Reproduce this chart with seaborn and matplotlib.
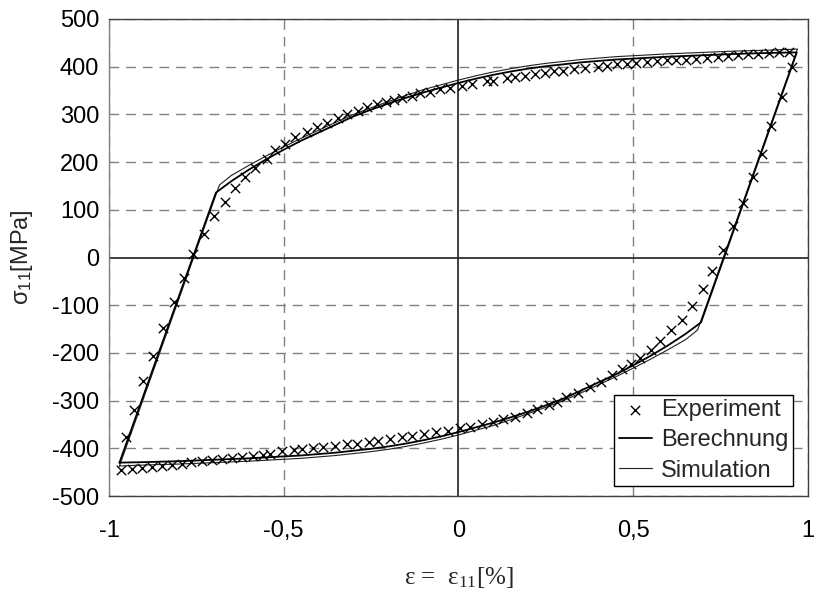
import matplotlib
matplotlib.use("Agg")
import pandas as pd
import matplotlib.pyplot as plt
import seaborn as sns
from matplotlib.ticker import FuncFormatter

# Experiment (markers), read along the loop
exp_strain = [-0.966, -0.952, -0.928, -0.902, -0.875, -0.846, -0.814, -0.785, -0.759, -0.728,
              -0.699, -0.668, -0.639, -0.611, -0.582, -0.549, -0.525, -0.497, -0.468, -0.434,
              -0.406, -0.375, -0.346, -0.320, -0.287, -0.261, -0.234, -0.207, -0.185, -0.163,
              -0.134, -0.110, -0.082, -0.053, -0.024, 0.009, 0.038, 0.081, 0.100, 0.138,
              0.162, 0.190, 0.219, 0.247, 0.273, 0.300, 0.330, 0.362, 0.400, 0.424,
              0.453, 0.481, 0.508, 0.540, 0.569, 0.596, 0.622, 0.651, 0.680, 0.710,
              0.743, 0.772, 0.801, 0.829, 0.858, 0.889, 0.918, 0.946,
              0.953, 0.925, 0.894, 0.868, 0.842, 0.813, 0.785, 0.756, 0.726, 0.700,
              0.667, 0.639, 0.608, 0.577, 0.550, 0.519, 0.493, 0.467, 0.439, 0.408,
              0.377, 0.343, 0.309, 0.281, 0.258, 0.224, 0.196, 0.162, 0.128, 0.100,
              0.066, 0.032, 0.003, -0.031, -0.064, -0.098, -0.132, -0.161, -0.195, -0.229,
              -0.257, -0.291, -0.319, -0.353, -0.387, -0.415, -0.449, -0.472, -0.506, -0.539,
              -0.559, -0.587, -0.620, -0.649, -0.678, -0.706, -0.735, -0.766, -0.792, -0.821,
              -0.849, -0.878, -0.906, -0.935]
exp_stress = [-446, -376, -320, -259, -206, -147, -93, -42, 7, 49,
              88, 117, 145, 169, 188, 206, 225, 238, 252, 264,
              273, 283, 292, 300, 308, 315, 321, 325, 330, 334,
              339, 344, 348, 353, 356, 360, 363, 369, 370, 376,
              378, 381, 384, 387, 390, 392, 395, 397, 400, 402,
              405, 406, 407, 409, 411, 413, 414, 415, 417, 419,
              421, 423, 424, 426, 427, 429, 430, 431,
              400, 336, 276, 217, 169, 114, 65, 16, -28, -65,
              -101, -130, -152, -176, -194, -210, -223, -234, -246, -260,
              -272, -283, -292, -302, -310, -318, -325, -334, -339, -344,
              -349, -355, -358, -363, -366, -370, -374, -377, -380, -384,
              -386, -390, -392, -395, -398, -400, -402, -403, -406, -412,
              -414, -416, -419, -421, -423, -425, -427, -429, -432, -434,
              -437, -439, -442, -444]

# Berechnung (solid line)
calc_strain = [-0.970, -0.694, -0.65, -0.60, -0.55, -0.50, -0.45, -0.40, -0.35, -0.30,
               -0.25, -0.20, -0.15, -0.10, -0.05, 0.00, 0.05, 0.10, 0.15, 0.20,
               0.25, 0.30, 0.35, 0.40, 0.45, 0.50, 0.60, 0.70, 0.80, 0.90, 0.968,
               0.694, 0.65, 0.60, 0.55, 0.50, 0.45, 0.40, 0.35, 0.30,
               0.25, 0.20, 0.15, 0.10, 0.05, 0.00, -0.05, -0.10, -0.15, -0.20,
               -0.25, -0.30, -0.35, -0.40, -0.45, -0.50, -0.60, -0.70, -0.80, -0.90, -0.970]
calc_stress = [-430, 136, 160, 184, 206, 226, 245, 262, 279, 296,
               310, 323, 335, 346, 356, 366, 375, 383, 390, 396,
               401, 405, 409, 412, 415, 417, 421, 424, 427, 429, 430,
               -136, -160, -184, -206, -226, -245, -262, -279, -296,
               -310, -323, -335, -346, -356, -366, -375, -383, -390, -396,
               -401, -405, -409, -412, -415, -417, -421, -424, -427, -429, -430]

# Simulation (thin line)
sim_strain = [-0.970, -0.684, -0.65, -0.60, -0.55, -0.50, -0.45, -0.40, -0.35, -0.30,
              -0.25, -0.20, -0.15, -0.10, -0.05, 0.00, 0.05, 0.10, 0.15, 0.20,
              0.25, 0.30, 0.35, 0.40, 0.45, 0.50, 0.60, 0.70, 0.80, 0.90, 0.970,
              0.684, 0.65, 0.60, 0.55, 0.50, 0.45, 0.40, 0.35, 0.30,
              0.25, 0.20, 0.15, 0.10, 0.05, 0.00, -0.05, -0.10, -0.15, -0.20,
              -0.25, -0.30, -0.35, -0.40, -0.45, -0.50, -0.60, -0.70, -0.80, -0.90, -0.970]
sim_stress = [-437, 152, 172, 193, 213, 232, 250, 267, 284, 300,
              314, 327, 340, 352, 362, 372, 381, 389, 396, 402,
              407, 411, 415, 418, 421, 423, 427, 430, 433, 435, 437,
              -152, -172, -193, -213, -232, -250, -267, -284, -300,
              -314, -327, -340, -352, -362, -372, -381, -389, -396, -402,
              -407, -411, -415, -418, -421, -423, -427, -430, -433, -435, -437]

x_ticks = [-1, -0.5, 0, 0.5, 1]
y_ticks = list(range(-500, 501, 100))

sns.set_style("white")
plt.rcParams['font.family'] = ['Liberation Sans', 'DejaVu Sans']
plt.rcParams['axes.unicode_minus'] = False

fig = plt.figure(figsize=(8.14, 5.90), dpi=100)
ax = fig.add_axes([0.1339, 0.1593, 0.8587, 0.8085])

# grid and zero axes
for xv in x_ticks:
    if xv != 0:
        ax.axvline(xv, color='#808080', lw=1.0, ls=(0, (7, 5)), zorder=0)
for yv in y_ticks:
    if yv != 0:
        ax.axhline(yv, color='#808080', lw=1.0, ls=(0, (7, 5)), zorder=0)
ax.axhline(0, color='#303030', lw=1.3, zorder=1)
ax.axvline(0, color='#303030', lw=1.3, zorder=1)

calc = pd.DataFrame({'strain': calc_strain, 'stress': calc_stress})
sim = pd.DataFrame({'strain': sim_strain, 'stress': sim_stress})
exp = pd.DataFrame({'strain': exp_strain, 'stress': exp_stress})

sns.lineplot(data=sim, x='strain', y='stress', sort=False, estimator=None,
             color='#202020', lw=0.8, ax=ax, label='Simulation', zorder=2)
sns.lineplot(data=calc, x='strain', y='stress', sort=False, estimator=None,
             color='black', lw=1.3, ax=ax, label='Berechnung', zorder=3)
sns.scatterplot(data=exp, x='strain', y='stress', marker='x', color='black',
                s=45, linewidth=1.0, ax=ax, label='Experiment', zorder=4)

ax.set_xlim(-1, 1)
ax.set_ylim(-500, 500)
ax.set_xticks(x_ticks)
ax.set_yticks(y_ticks)
ax.xaxis.set_major_formatter(FuncFormatter(lambda v, p: ('%g' % v).replace('.', ',')))
ax.tick_params(axis='both', length=0, labelsize=17, colors='black')
ax.tick_params(axis='x', pad=17)
ax.tick_params(axis='y', pad=7)

for side in ['top', 'right', 'bottom']:
    ax.spines[side].set_color('#404040')
    ax.spines[side].set_linewidth(1.0)
ax.spines['left'].set_color('#808080')
ax.spines['left'].set_linewidth(1.0)

ax.set_xlabel('ε =  ε$\\mathregular{_{11}}$[%]', fontsize=18,
              family=['Liberation Serif', 'DejaVu Serif'], labelpad=17)
ax.set_ylabel('σ$\\mathregular{_{11}}$[MPa]', fontsize=17, labelpad=12)

handles, labels = ax.get_legend_handles_labels()
order = [labels.index(n) for n in ['Experiment', 'Berechnung', 'Simulation']]
leg = ax.legend([handles[i] for i in order], [labels[i] for i in order],
                loc='lower right', bbox_to_anchor=(0.979, 0.02), fontsize=17,
                frameon=True, fancybox=False, edgecolor='black', framealpha=1,
                handlelength=1.4, handletextpad=0.4, borderpad=0.2,
                labelspacing=0.35, borderaxespad=0)
leg.get_frame().set_linewidth(1.0)

fig.savefig('out.png', dpi=100)
